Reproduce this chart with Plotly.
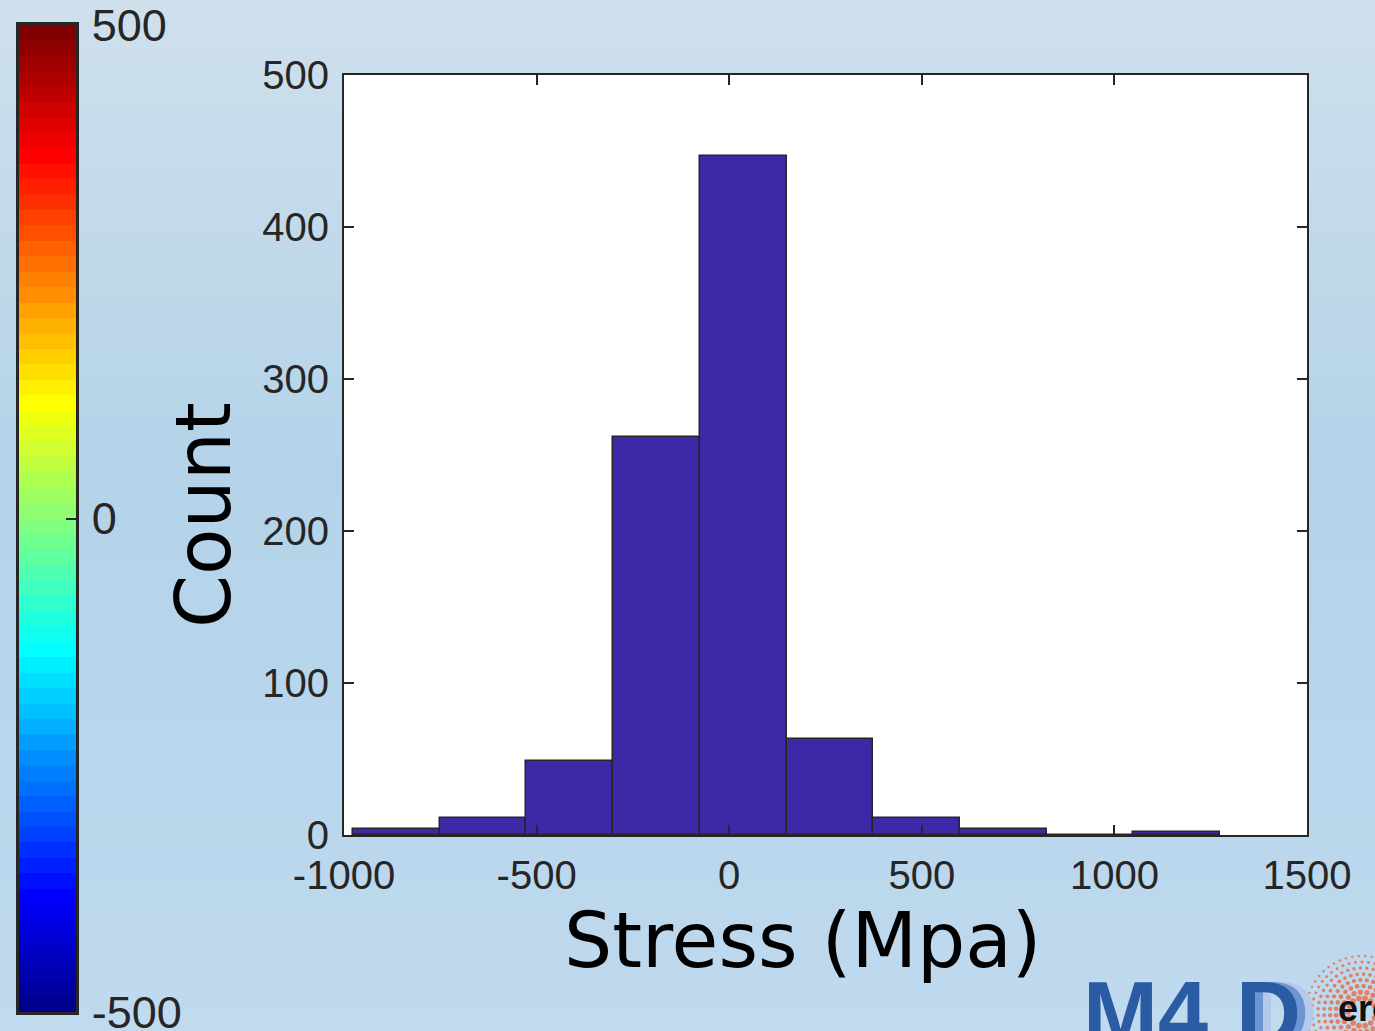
import math, zlib, struct, base64
import plotly.graph_objects as go

W, H = 1375, 1031

# ---------------- data ----------------
bin_edges = [-976.6, -751.5, -526.4, -301.3, -76.2, 148.9, 374.0, 599.1, 824.2, 1049.3, 1274.4]
counts = [4, 11, 49, 262, 447, 63, 11, 4, 0, 2]
x_ticks = [-1000, -500, 0, 500, 1000, 1500]
x_tick_labels = ['-1000', '-500', '0', '500', '1000', '1500']
y_ticks = [0, 100, 200, 300, 400, 500]
y_tick_labels = ['0', '100', '200', '300', '400', '500']
cbar_range = [-500, 500]
cbar_ticks = [-500, 0, 500]
cbar_tick_labels = ['-500', '0', '500']
cbar_steps = 64

# ---------------- helpers ----------------
def px(x):
    return x / W

def py(y):
    return 1 - y / H

def jet(m):
    n = math.ceil(m / 4)
    u = [i / n for i in range(1, n + 1)] + [1.0] * (n - 1) + [i / n for i in range(n, 0, -1)]
    g0 = math.ceil(n / 2) - (1 if m % 4 == 1 else 0)
    J = [[0.0, 0.0, 0.0] for _ in range(m)]
    for k, val in enumerate(u):
        g = g0 + k + 1
        r = g + n
        b = g - n
        if 1 <= r <= m:
            J[r - 1][0] = val
        if 1 <= g <= m:
            J[g - 1][1] = val
        if 1 <= b <= m:
            J[b - 1][2] = val
    return ['rgb(%d,%d,%d)' % tuple(round(c * 255) for c in row) for row in J]

def gradient_png(stops, h=128):
    rows = []
    for i in range(h):
        t = i / (h - 1)
        for j in range(len(stops) - 1):
            t0, c0 = stops[j]
            t1, c1 = stops[j + 1]
            if t0 <= t <= t1:
                f = (t - t0) / (t1 - t0) if t1 > t0 else 0
                col = [round(c0[k] + (c1[k] - c0[k]) * f) for k in range(3)]
                break
        rows.append(b'\x00' + bytes(col))
    raw = b''.join(rows)

    def chunk(tag, data):
        return struct.pack('>I', len(data)) + tag + data + struct.pack('>I', zlib.crc32(tag + data) & 0xffffffff)

    ihdr = struct.pack('>IIBBBBB', 1, h, 8, 2, 0, 0, 0)
    png = b'\x89PNG\r\n\x1a\n' + chunk(b'IHDR', ihdr) + chunk(b'IDAT', zlib.compress(raw)) + chunk(b'IEND', b'')
    return 'data:image/png;base64,' + base64.b64encode(png).decode()

AX = '#262626'
TICKFONT = dict(family='Liberation Sans, Arial, sans-serif', size=40, color=AX)

fig = go.Figure()

# ---------------- histogram ----------------
centers = [(bin_edges[i] + bin_edges[i + 1]) / 2 for i in range(len(counts))]
widths = [bin_edges[i + 1] - bin_edges[i] for i in range(len(counts))]
fig.add_trace(go.Bar(
    x=centers, y=counts, width=widths,
    marker=dict(color='#3D28A8', line=dict(color=AX, width=1.5)),
    xaxis='x', yaxis='y', hoverinfo='x+y', showlegend=False,
))

# ---------------- colour bar (jet) ----------------
jet_cols = jet(cbar_steps)
step = (cbar_range[1] - cbar_range[0]) / cbar_steps
cb_centers = [cbar_range[0] + (i + 0.5) * step for i in range(cbar_steps)]
fig.add_trace(go.Heatmap(
    z=[[i] for i in range(cbar_steps)], x=[0], y=cb_centers,
    colorscale=[[i / (cbar_steps - 1), c] for i, c in enumerate(jet_cols)],
    zmin=0, zmax=cbar_steps - 1, showscale=False, hoverinfo='skip',
    xaxis='x2', yaxis='y2',
))

# ---------------- ERC-style dot logo (decorative) ----------------
dx, dy, ds = [], [], []
cx, cy = 1362, 1012
r = 14
while r <= 56:
    n = max(8, round(2 * math.pi * r / 6.5))
    size = 5.6 - (r - 14) * 0.075
    for k in range(n):
        a = 2 * math.pi * k / n + (r % 2) * 0.2
        dx.append(cx + r * math.cos(a))
        dy.append(cy + r * math.sin(a))
        ds.append(size)
    r += 6
fig.add_trace(go.Scatter(
    x=dx, y=dy, mode='markers', xaxis='x3', yaxis='y3',
    marker=dict(size=ds, color='#F05A2A', line=dict(width=0)),
    hoverinfo='skip', showlegend=False,
))

bg = gradient_png([(0.0, (207, 224, 236)), (0.45, (180, 211, 233)),
                   (0.75, (185, 214, 236)), (1.0, (192, 218, 238))])

fig.update_layout(
    width=W, height=H,
    margin=dict(l=0, r=0, t=0, b=0, pad=0, autoexpand=False),
    paper_bgcolor='#c0d9ec',
    plot_bgcolor='rgba(0,0,0,0)',
    showlegend=False,
    bargap=0,
    images=[dict(source=bg, xref='paper', yref='paper', x=0, y=1, sizex=1, sizey=1,
                 sizing='stretch', layer='below', xanchor='left', yanchor='top')],
    xaxis=dict(domain=[px(344), px(1307)], range=[-1000, 1500], tickvals=x_ticks,
               ticktext=x_tick_labels,
               ticks='inside', ticklen=10, tickwidth=1.5, tickcolor=AX,
               showline=True, linecolor=AX, linewidth=2, mirror='ticks',
               showgrid=False, zeroline=False, tickfont=TICKFONT,
               ticklabelstandoff=4, ticklabeloverflow='allow',
               anchor='y', fixedrange=True, automargin=False),
    yaxis=dict(domain=[py(835), py(75)], range=[0, 500], tickvals=y_ticks,
               ticktext=y_tick_labels,
               ticks='inside', ticklen=10, tickwidth=1.5, tickcolor=AX,
               showline=True, linecolor=AX, linewidth=2, mirror='ticks',
               showgrid=False, zeroline=False, tickfont=TICKFONT,
               ticklabelstandoff=5, ticklabeloverflow='allow',
               anchor='x', fixedrange=True, automargin=False),
    xaxis2=dict(domain=[px(19), px(76)], range=[-0.5, 0.5], showticklabels=False,
                ticks='', showline=True, linecolor=AX, linewidth=2.5, mirror=True,
                showgrid=False, zeroline=False, anchor='y2', fixedrange=True, automargin=False),
    yaxis2=dict(domain=[py(1012), py(25)], range=cbar_range, tickvals=cbar_ticks,
                ticktext=cbar_tick_labels,
                side='right', ticks='inside', ticklen=10, tickwidth=2, tickcolor=AX,
                showline=True, linecolor=AX, linewidth=2.5, mirror=True,
                showgrid=False, zeroline=False, anchor='x2',
                tickfont=dict(family='Liberation Sans, Arial, sans-serif', size=45, color=AX),
                ticklabelstandoff=4, ticklabeloverflow='allow',
                fixedrange=True, automargin=False),
    xaxis3=dict(domain=[0, 1], range=[0, W], visible=False, anchor='y3', fixedrange=True, automargin=False),
    yaxis3=dict(domain=[0, 1], range=[H, 0], visible=False, anchor='x3', fixedrange=True, automargin=False),
)

# white plotting area for the histogram
fig.add_shape(type='rect', xref='x domain', yref='y domain', x0=0, x1=1, y0=0, y1=1,
              fillcolor='white', line=dict(width=0), layer='below')

TITLEFONT = dict(family='DejaVu Sans, Verdana, sans-serif', size=76, color='black')
ann = [
    dict(text='Stress (Mpa)', x=px(802), y=py(940), xanchor='center', yanchor='middle', font=TITLEFONT),
    dict(text='Count', x=px(203), y=py(515), xanchor='center', yanchor='middle', textangle=-90, font=TITLEFONT),
]
LOGOFONT = 'Liberation Sans, Arial, sans-serif'
ann += [
    dict(text='<b>D</b>', x=px(1250), y=py(962), xanchor='left', yanchor='top',
         font=dict(family=LOGOFONT, size=90, color='#B5C9EA')),
    dict(text='<b>D</b>', x=px(1242), y=py(962), xanchor='left', yanchor='top',
         font=dict(family=LOGOFONT, size=90, color='#6D95D3')),
    dict(text='<b>D</b>', x=px(1234), y=py(962), xanchor='left', yanchor='top',
         font=dict(family=LOGOFONT, size=90, color='#2B5BA3')),
    dict(text='<b>M4</b>', x=px(1081), y=py(962), xanchor='left', yanchor='top',
         font=dict(family=LOGOFONT, size=90, color='#2B5BA3')),
    dict(text='<b>erc</b>', x=px(1336), y=py(986), xanchor='left', yanchor='top',
         font=dict(family=LOGOFONT, size=36, color='#111111')),
]
for a in ann:
    a.update(xref='paper', yref='paper', showarrow=False)
fig.update_layout(annotations=ann)

fig.write_html('out.html', config={'displayModeBar': False},
               post_script="document.body.style.margin='0';document.body.style.overflow='hidden';")
